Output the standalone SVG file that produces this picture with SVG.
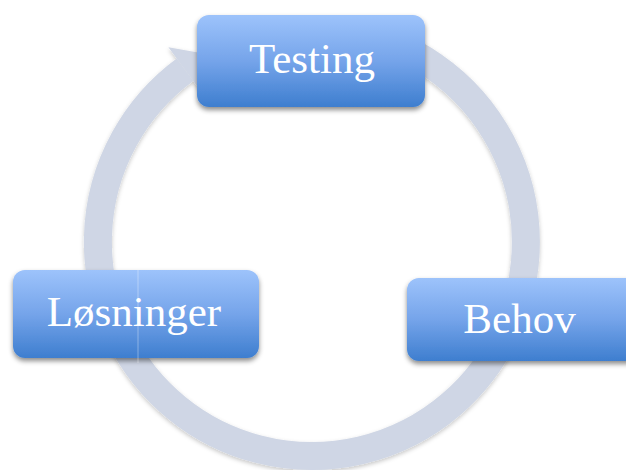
<svg xmlns="http://www.w3.org/2000/svg" width="626" height="470" viewBox="0 0 626 470">
  <defs>
    <linearGradient id="boxFill" x1="0" y1="0" x2="0" y2="1">
      <stop offset="0" stop-color="#9dc3fb"/>
      <stop offset="0.5" stop-color="#75a4ea"/>
      <stop offset="1" stop-color="#3e7ecf"/>
    </linearGradient>
    <filter id="boxShadow" x="-10%" y="-20%" width="120%" height="150%">
      <feDropShadow dx="0" dy="3" stdDeviation="2.5" flood-color="#000" flood-opacity="0.45"/>
    </filter>
    <filter id="ringShadow" x="-10%" y="-10%" width="120%" height="120%">
      <feDropShadow dx="0" dy="2" stdDeviation="2" flood-color="#000" flood-opacity="0.22"/>
    </filter>
    <style>
      .box { fill: url(#boxFill); filter: url(#boxShadow); }
      .label { font-family: "Liberation Serif", "DejaVu Serif", serif; font-size: 43px; fill: #ffffff; text-anchor: middle; }
      .ring { fill: none; stroke: #cfd6e5; stroke-width: 28; }
      .head { fill: #cfd6e5; }
    </style>
  </defs>

  <!-- circular cycle arrow -->
  <g id="connectors" filter="url(#ringShadow)">
    <path class="ring" d="M 349.2 31.3 A 214 214 0 1 1 185.0 69.7"/>
    <polygon class="head" points="168.4,47.2 212,55 201.6,92.3 185.0,69.7"/>
  </g>

  <g id="testing">
    <rect class="box" x="197" y="15" width="228" height="92" rx="12"/>
    <text class="label" x="312" y="73">Testing</text>
  </g>

  <g id="losninger">
    <rect class="box" x="13" y="270" width="246" height="88" rx="12"/>
    <line x1="138" y1="270" x2="138" y2="363" stroke="#ffffff" stroke-opacity="0.35" stroke-width="1"/>
    <text class="label" x="134" y="326">Løsninger</text>
  </g>

  <g id="behov">
    <rect class="box" x="407" y="278" width="240" height="83" rx="12"/>
    <text class="label" x="519.5" y="333">Behov</text>
  </g>
</svg>
